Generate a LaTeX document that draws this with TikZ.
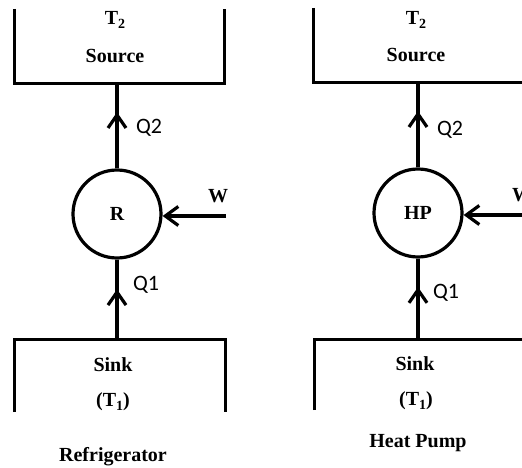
\documentclass[tikz,border=0pt]{standalone}
\usepackage{fontspec}
\setmainfont{Liberation Serif}
\newfontfamily\qfont{Carlito}
\usetikzlibrary{arrows.meta, positioning, decorations.markings}
\newcommand{\lowsub}[1]{\raisebox{-0.17em}{\fontsize{14}{14}\selectfont #1}}
\tikzset{
  % Reservoir and device styles
  reservoir/.style={rectangle, inner sep=0pt, minimum width=#1, minimum height=74pt},
  reservoir/.default={210pt},
  device/.style={circle, draw=black, line width=3.2pt, minimum size=88pt, inner sep=0pt, font=\fontsize{20}{23}\selectfont\bfseries},
  restext/.style={inner sep=0pt, font=\fontsize{20}{23}\selectfont\bfseries},
  heattext/.style={inner sep=0pt, font=\qfont\fontsize{22}{24}\selectfont},
  wall/.style={line width=3.2pt, line join=miter},
  % Connector styles
  arrow/.style={-{Straight Barb[length=13pt, width=19pt]}, line width=3.2pt},
  midarrow/.style={line width=3.2pt, postaction={decorate},
    decoration={markings, mark=at position #1 with {\arrow{Straight Barb[length=13pt, width=18pt]}}}},
  midarrow/.default={0.65},
}

\begin{document}
\begin{tikzpicture}[x=1pt, y=-1pt]
    \useasboundingbox (0,0) rectangle (522,468);
    \clip (0,0) rectangle (522,468);

    % Refrigerator
    \node[reservoir=209pt] (srcL) at (119.5,46) {};
    \node[restext] (tL) at (115,20) {T\lowsub{2}};
    \node[restext] (srcLtxt) at (115,56) {Source};
    \node[device] (cycL) at (117,214) {R};
    \node[reservoir=210pt, minimum height=72pt] (sinkL) at (120,376) {};
    \node[restext] (sinkLtxt) at (113,365) {Sink};
    \node[restext] (tLone) at (113,402) {(T\lowsub{1})};
    \node[restext] (capL) at (113,457) {Refrigerator};
    \coordinate (wL) at (226,216);

    \draw[wall] (srcL.north west) -- (srcL.south west) -- (srcL.south east) -- (srcL.north east);
    \draw[wall] (sinkL.south west) -- (sinkL.north west) -- (sinkL.north east) -- (sinkL.south east);
    \draw[midarrow=0.63] (sinkL.north -| cycL.south) -- (cycL.south);
    \draw[midarrow=0.66] (cycL.north) -- (srcL.south -| cycL.north);
    \draw[arrow] (wL) -- (cycL.east |- wL);
    \node[heattext] (qtwoL) at (149,128) {Q2};
    \node[heattext] (qoneL) at (146,285) {Q1};
    \node[restext] (wLtxt) at (218,196) {W};

    % Heat pump
    \node[reservoir=216pt] (srcH) at (422,45) {};
    \node[restext] (tH) at (416,20) {T\lowsub{2}};
    \node[restext] (srcHtxt) at (416,55) {Source};
    \node[device] (cycH) at (418,213) {HP};
    \node[reservoir=215pt, minimum height=70pt] (sinkH) at (422.5,375) {};
    \node[restext] (sinkHtxt) at (415,364) {Sink};
    \node[restext] (tHone) at (416,401) {(T\lowsub{1})};
    \node[restext] (capH) at (418,443) {Heat Pump};
    \coordinate (wH) at (532,215);

    \draw[wall] (srcH.north west) -- (srcH.south west) -- (srcH.south east) -- (srcH.north east);
    \draw[wall] (sinkH.south west) -- (sinkH.north west) -- (sinkH.north east) -- (sinkH.south east);
    \draw[midarrow=0.65] (sinkH.north -| cycH.south) -- (cycH.south);
    \draw[midarrow=0.66] (cycH.north) -- (srcH.south -| cycH.north);
    \draw[arrow] (wH) -- (cycH.east |- wH);
    \node[heattext] (qtwoH) at (450,130) {Q2};
    \node[heattext] (qoneH) at (446,293) {Q1};
    \node[restext] (wHtxt) at (522,195) {W};
\end{tikzpicture}
\end{document}
